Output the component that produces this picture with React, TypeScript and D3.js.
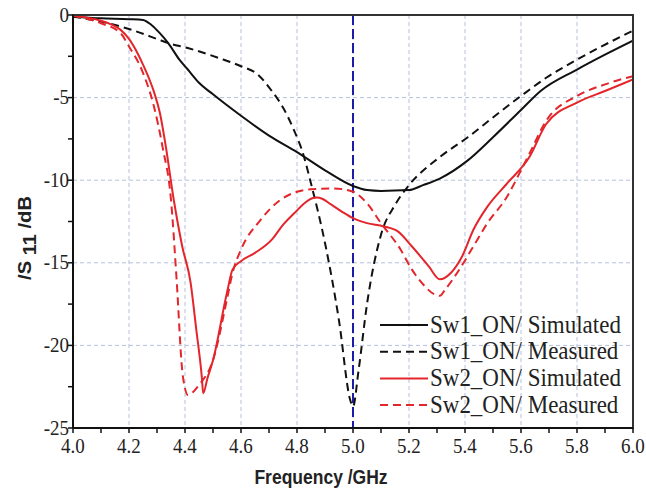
import React from "react";
import * as d3 from "d3";

const sw1SimF = [4.0, 4.1, 4.2, 4.25, 4.28, 4.31, 4.34, 4.38, 4.41, 4.45, 4.5, 4.6, 4.7, 4.8, 4.9, 5.0, 5.05, 5.1, 5.2, 5.25, 5.31, 5.41, 5.5, 5.6, 5.67, 5.8, 5.9, 6.0];
const sw1SimV = [-0.1, -0.2, -0.25, -0.3, -0.6, -1.1, -1.7, -2.7, -3.3, -4.1, -4.8, -6.1, -7.3, -8.3, -9.4, -10.35, -10.6, -10.65, -10.6, -10.3, -9.9, -8.8, -7.4, -5.75, -4.6, -3.3, -2.4, -1.55];

const sw1MeasF = [4.0, 4.1, 4.2, 4.3, 4.34, 4.41, 4.52, 4.6, 4.66, 4.71, 4.75, 4.79, 4.82, 4.85, 4.9, 4.95, 4.99, 5.0, 5.02, 5.05, 5.1, 5.15, 5.2, 5.31, 5.41, 5.5, 5.6, 5.69, 5.8, 6.0];
const sw1MeasV = [-0.1, -0.4, -0.85, -1.45, -1.7, -2.0, -2.6, -3.1, -3.6, -4.6, -5.6, -7.0, -8.3, -10.2, -13.8, -18.5, -23.3, -23.7, -21.5, -17.5, -13.3, -11.5, -10.3, -8.6, -7.4, -6.2, -4.9, -3.8, -2.7, -0.95];

const sw2SimF = [4.0, 4.1, 4.14, 4.17, 4.2, 4.23, 4.25, 4.29, 4.31, 4.33, 4.36, 4.39, 4.42, 4.44, 4.46, 4.465, 4.48, 4.5, 4.55, 4.57, 4.6, 4.65, 4.71, 4.75, 4.79, 4.83, 4.85, 4.87, 4.89, 4.92, 4.96, 5.0, 5.05, 5.11, 5.16, 5.21, 5.27, 5.31, 5.35, 5.39, 5.43, 5.48, 5.55, 5.63, 5.69, 5.8, 5.9, 6.0];
const sw2SimV = [-0.05, -0.35, -0.6, -0.9, -1.45, -2.3, -3.0, -4.7, -5.9, -7.8, -11.2, -14.0, -16.2, -19.0, -21.9, -22.9, -22.0, -20.9, -16.8, -15.4, -14.9, -14.4, -13.6, -12.7, -12.0, -11.35, -11.12, -11.05, -11.12, -11.45, -11.9, -12.3, -12.6, -12.8, -13.1, -14.0, -15.2, -16.0, -15.6, -14.6, -13.0, -11.6, -10.2, -8.6, -6.6, -5.3, -4.6, -3.9];

const sw2MeasF = [4.0, 4.1, 4.17, 4.2, 4.25, 4.29, 4.32, 4.35, 4.37, 4.39, 4.4, 4.41, 4.43, 4.45, 4.5, 4.55, 4.57, 4.6, 4.67, 4.74, 4.8, 4.85, 4.93, 5.0, 5.05, 5.1, 5.17, 5.21, 5.25, 5.29, 5.31, 5.33, 5.38, 5.43, 5.48, 5.55, 5.6, 5.63, 5.69, 5.8, 5.9, 6.0];
const sw2MeasV = [-0.05, -0.5, -1.1, -1.9, -3.5, -5.6, -8.0, -11.2, -16.0, -21.5, -22.6, -23.0, -22.8, -22.4, -20.9, -17.2, -15.6, -14.2, -12.4, -11.2, -10.7, -10.55, -10.5, -10.7, -11.4, -12.6, -14.2, -15.4, -16.3, -16.9, -17.0, -16.6, -15.4, -14.0, -12.6, -11.0, -9.4, -8.4, -6.4, -4.9, -4.2, -3.7];

const xTicks = [4.0, 4.2, 4.4, 4.6, 4.8, 5.0, 5.2, 5.4, 5.6, 5.8, 6.0];
const xMinor = [4.1, 4.3, 4.5, 4.7, 4.9, 5.1, 5.3, 5.5, 5.7, 5.9];
const yTicks = [0, -5, -10, -15, -20, -25];
const yMinor = [-2.5, -7.5, -12.5, -17.5, -22.5];
const markerF = 5.0;

const legendItems = [
  { label: "Sw1_ON/ Simulated", color: "#111", dash: "" },
  { label: "Sw1_ON/ Measured", color: "#111", dash: "8,5" },
  { label: "Sw2_ON/ Simulated", color: "#e3262b", dash: "" },
  { label: "Sw2_ON/ Measured", color: "#e3262b", dash: "8,5" },
];

const W = 646, H = 495;
const L = 73, R = 633, T = 15, B = 428;
const SY = 1.15;
const serif = "'Liberation Serif', 'Times New Roman', serif";
const sans = "'Liberation Sans', Arial, sans-serif";

export default function App() {
  const x = d3.scaleLinear().domain([4, 6]).range([L, R]);
  const y = d3.scaleLinear().domain([0, -25]).range([T, B]);
  const line = d3.line<[number, number]>().x(d => x(d[0])).y(d => y(d[1])).curve(d3.curveMonotoneX);
  const zip = (f: number[], v: number[]) => f.map((ff, i) => [ff, v[i]] as [number, number]);
  const series = [
    { d: zip(sw1SimF, sw1SimV), ...legendItems[0] },
    { d: zip(sw1MeasF, sw1MeasV), ...legendItems[1] },
    { d: zip(sw2SimF, sw2SimV), ...legendItems[2] },
    { d: zip(sw2MeasF, sw2MeasV), ...legendItems[3] },
  ];
  const st = (tx: number, ty: number, s = SY) => `translate(${tx},${ty}) scale(1,${s})`;
  return (
    <svg width={W} height={H} style={{ position: "absolute", left: 0, top: 0, background: "#fff" }}>
      <defs>
        <clipPath id="plot"><rect x={L} y={T} width={R - L} height={B - T} /></clipPath>
      </defs>
      {xTicks.slice(1, -1).map(t => (
        <line key={"gx" + t} x1={x(t)} x2={x(t)} y1={T} y2={B} stroke="#b4c0dc" strokeWidth={1} strokeDasharray="4,3" />
      ))}
      {yTicks.slice(1, -1).map(t => (
        <line key={"gy" + t} x1={L} x2={R} y1={y(t)} y2={y(t)} stroke="#b4c0dc" strokeWidth={1} strokeDasharray="4,3" />
      ))}
      <line x1={x(markerF)} x2={x(markerF)} y1={T} y2={B} stroke="#1c1ca8" strokeWidth={2} strokeDasharray="10,4" />
      <g clipPath="url(#plot)">
        {series.map((s, i) => (
          <path key={i} d={line(s.d) || ""} fill="none" stroke={s.color} strokeWidth={2} strokeDasharray={s.dash} />
        ))}
      </g>
      <rect x={L} y={T} width={R - L} height={B - T} fill="none" stroke="#333" strokeWidth={2} />
      <line x1={L} x2={L} y1={T} y2={B} stroke="#111" strokeWidth={2} />
      <line x1={L} x2={R} y1={B} y2={B} stroke="#111" strokeWidth={2} />
      {[...xTicks, ...xMinor].map(t => (
        <line key={"tx" + t} x1={x(t)} x2={x(t)} y1={B} y2={B + 5} stroke="#111" strokeWidth={1.5} />
      ))}
      {[...yTicks, ...yMinor].map(t => (
        <line key={"ty" + t} x1={L - 5} x2={L} y1={y(t)} y2={y(t)} stroke="#111" strokeWidth={1.5} />
      ))}
      {xTicks.map(t => (
        <text key={"lx" + t} transform={st(x(t), 453)} textAnchor="middle" fontFamily={serif} fontSize={19} fill="#222">{t.toFixed(1)}</text>
      ))}
      {yTicks.map(t => (
        <text key={"ly" + t} transform={st(69, y(t) + 6.5)} textAnchor="end" fontFamily={serif} fontSize={19} fill="#222">{t}</text>
      ))}
      <text transform={st(321, 484)} textAnchor="middle" fontFamily={sans} fontWeight="bold" fontSize={17.5} fill="#222">Frequency /GHz</text>
      <text transform={`translate(31,238) scale(1,${SY}) rotate(-90)`} textAnchor="middle" fontFamily={sans} fontWeight="bold" fontSize={17.5} fill="#222">
        /S <tspan dy={5}>11</tspan><tspan dy={-5}> /dB</tspan>
      </text>
      {legendItems.map((it, i) => {
        const ly = 325 + i * 26.7;
        return (
          <g key={"lg" + i}>
            <line x1={380} x2={428} y1={ly} y2={ly} stroke={it.color} strokeWidth={2} strokeDasharray={it.dash} />
            <text transform={st(430, ly + 7.5, 1.08)} fontFamily={serif} fontSize={23} fill="#222">{it.label}</text>
          </g>
        );
      })}
    </svg>
  );
}
